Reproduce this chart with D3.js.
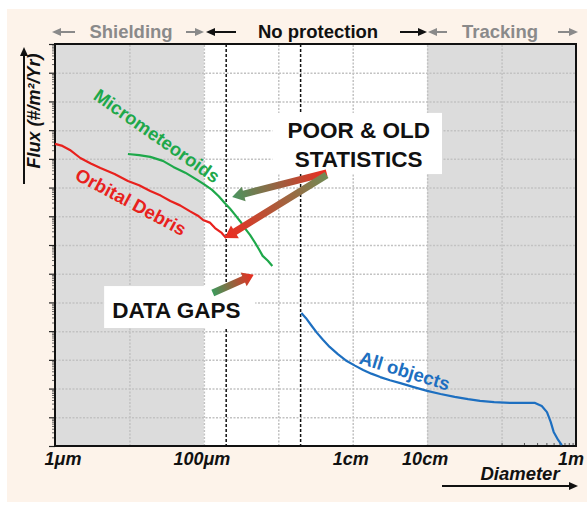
<!DOCTYPE html>
<html><head><meta charset="utf-8">
<script src="https://cdn.jsdelivr.net/npm/d3@7"></script>
<style>
html,body{margin:0;padding:0;background:#fff;}
svg{display:block;font-family:"Liberation Sans",Arial,sans-serif;}
</style></head>
<body>
<svg id="c" width="587" height="511"></svg>
<script>
// ---- data (x in decade-grid units 0..7, y in flux-grid units 0..14) ----
const xTickPos    = [0, 2, 4, 5, 7];
const xTickLabels = ["1μm", "100μm", "1cm", "10cm", "1m"];
const zoneNames   = ["Shielding", "No protection", "Tracking"];
const shadedZones = [[0, 2], [5, 7]];
const gapBounds   = [2.3, 3.3];

const debrisX = [0, 0.10, 0.20, 0.34, 0.48, 0.61, 0.80, 0.98, 1.13, 1.28, 1.42, 1.55, 1.68, 1.81, 1.92, 1.99, 2.08, 2.15, 2.24, 2.30];
const debrisY = [10.52, 10.45, 10.31, 10.03, 9.84, 9.68, 9.47, 9.23, 9.08, 8.88, 8.72, 8.53, 8.38, 8.18, 8.02, 7.87, 7.78, 7.59, 7.42, 7.24];

const microX = [0.98, 1.13, 1.28, 1.45, 1.59, 1.75, 1.91, 2.01, 2.11, 2.20, 2.28, 2.35, 2.42, 2.49, 2.55, 2.62, 2.69, 2.74, 2.79, 2.86, 2.92];
const microY = [10.17, 10.13, 10.07, 9.93, 9.72, 9.52, 9.27, 9.10, 8.92, 8.70, 8.46, 8.27, 8.05, 7.82, 7.59, 7.35, 7.07, 6.85, 6.62, 6.45, 6.27];

const allX = [3.31, 3.37, 3.45, 3.52, 3.60, 3.69, 3.80, 3.92, 4.03, 4.14, 4.25, 4.37, 4.50, 4.64, 4.82, 5.00, 5.18, 5.37, 5.55, 5.71, 5.90, 6.11, 6.30, 6.45, 6.54, 6.61, 6.66, 6.70, 6.76, 6.81];
const allY = [4.63, 4.46, 4.18, 3.94, 3.70, 3.45, 3.20, 2.96, 2.80, 2.65, 2.52, 2.40, 2.29, 2.19, 2.05, 1.92, 1.81, 1.71, 1.63, 1.57, 1.53, 1.50, 1.50, 1.50, 1.39, 1.18, 0.84, 0.49, 0.21, 0.03];

const seriesNames = ["Micrometeoroids", "Orbital Debris", "All objects"];

// ---- layout ----
const svg = d3.select("#c");
const L = 55, R = 576, T = 44, B = 446;
const x = d3.scaleLinear().domain([0, 7]).range([L, R]);
const y = d3.scaleLinear().domain([0, 14]).range([B, T]);

const C = {red:"#e8211d", green:"#1ea84a", blue:"#1d6fc0", grey:"#8a8a8a", shade:"#dcdcdc"};

// background
svg.append("rect").attr("x",7).attr("y",9).attr("width",580).attr("height",493).attr("fill","#fdf3ea");
svg.append("rect").attr("x",L).attr("y",T).attr("width",R-L).attr("height",B-T).attr("fill","#fff");

// shaded zones
svg.selectAll("rect.zone").data(shadedZones).join("rect").attr("class","zone")
  .attr("x",d=>x(d[0])).attr("y",T).attr("width",d=>x(d[1])-x(d[0])).attr("height",B-T)
  .attr("fill",C.shade);

// grid
const gx = d3.axisBottom(x).tickValues(d3.range(1,7)).tickSize(-(B-T)).tickFormat("");
svg.append("g").attr("transform",`translate(0,${B})`).call(gx)
  .call(g=>g.select(".domain").remove())
  .call(g=>g.selectAll("line").attr("stroke","#c2c2c2").attr("stroke-width",1.5).attr("stroke-dasharray","2,1.5"));
const gy = d3.axisLeft(y).tickValues(d3.range(1,14)).tickSize(-(R-L)).tickFormat("");
svg.append("g").attr("transform",`translate(${L},0)`).call(gy)
  .call(g=>g.select(".domain").remove())
  .call(g=>g.selectAll("line").attr("stroke","#c2c2c2").attr("stroke-width",1.5).attr("stroke-dasharray","2,1.5"));

// dashed gap bounds
svg.selectAll("line.gap").data(gapBounds).join("line").attr("class","gap")
  .attr("x1",d=>x(d)).attr("x2",d=>x(d)).attr("y1",T).attr("y2",B)
  .attr("stroke","#111").attr("stroke-width",1.5).attr("stroke-dasharray","3,2");

// left axis major + minor ticks
const yAx = d3.axisLeft(y).tickValues(d3.range(0,15)).tickSize(6).tickFormat("");
svg.append("g").attr("transform",`translate(${L},0)`).call(yAx)
  .call(g=>g.select(".domain").remove())
  .call(g=>g.selectAll("line").attr("stroke","#222").attr("stroke-width",1.2));
const minor = [];
d3.range(0,14).forEach(i=>d3.range(2,10).forEach(k=>minor.push(i+Math.log10(k))));
svg.append("g").attr("transform",`translate(${L},0)`).call(d3.axisLeft(y).tickValues(minor).tickSize(3).tickFormat(""))
  .call(g=>g.select(".domain").remove())
  .call(g=>g.selectAll("line").attr("stroke","#444").attr("stroke-width",0.8));
// bottom minor ticks near 1m
const bminor = d3.range(2,10).map(k=>6+Math.log10(k));
svg.append("g").attr("transform",`translate(0,${B})`).call(d3.axisTop(x).tickValues([6].concat(bminor)).tickSize(3).tickFormat(""))
  .call(g=>g.select(".domain").remove())
  .call(g=>g.selectAll("line").attr("stroke","#444").attr("stroke-width",0.9));

// frame
svg.append("rect").attr("x",L).attr("y",T).attr("width",R-L).attr("height",B-T)
  .attr("fill","none").attr("stroke","#111").attr("stroke-width",2);

// curves
const line = d3.line().x(d=>x(d[0])).y(d=>y(d[1]));
const series = [
  {xs:microX, ys:microY, c:C.green},
  {xs:debrisX, ys:debrisY, c:C.red},
  {xs:allX, ys:allY, c:C.blue}
];
series.forEach(s=>{
  svg.append("path").attr("d",line(d3.zip(s.xs,s.ys))).attr("fill","none")
    .attr("stroke",s.c).attr("stroke-width",2.2).attr("stroke-linejoin","round");
});

// curve labels
const labPos = [{x:1.37,y:10.80,a:35,c:C.green},{x:1.02,y:8.50,a:28,c:C.red},{x:4.70,y:2.62,a:17,c:C.blue}];
seriesNames.forEach((n,i)=>{
  const p = labPos[i];
  svg.append("text").attr("transform",`translate(${x(p.x)},${y(p.y)}) rotate(${p.a})`)
    .attr("text-anchor","middle").attr("dy","0.35em")
    .attr("font-size",18.5).attr("font-weight","bold").attr("fill",p.c).text(n);
});

// annotation boxes
svg.append("rect").attr("x",x(2.92)).attr("y",y(11.60)).attr("width",x(5.20)-x(2.92)).attr("height",y(9.47)-y(11.60)).attr("fill","#fff");
svg.append("rect").attr("x",x(0.66)).attr("y",y(5.57)).attr("width",x(2.69)-x(0.66)).attr("height",y(4.11)-y(5.57)).attr("fill","#fff");
svg.append("text").attr("x",x(4.08)).attr("y",y(10.73)).attr("text-anchor","middle")
  .attr("font-size",22.5).attr("font-weight","bold").attr("fill","#111").text("POOR & OLD");
svg.append("text").attr("x",x(4.08)).attr("y",y(9.72)).attr("text-anchor","middle")
  .attr("font-size",22.5).attr("font-weight","bold").attr("fill","#111").text("STATISTICS");
svg.append("text").attr("x",x(1.63)).attr("y",y(4.46)).attr("text-anchor","middle")
  .attr("font-size",22.5).attr("font-weight","bold").attr("fill","#111").text("DATA GAPS");

// gradient arrows
const defs = svg.append("defs");
function gradArrow(id, tail, tip, c0, c1, w, hw, hl){
  const x1=x(tail[0]), y1=y(tail[1]), x2=x(tip[0]), y2=y(tip[1]);
  const g = defs.append("linearGradient").attr("id",id).attr("gradientUnits","userSpaceOnUse")
    .attr("x1",x1).attr("y1",y1).attr("x2",x2).attr("y2",y2);
  g.append("stop").attr("offset","0%").attr("stop-color",c0);
  g.append("stop").attr("offset","100%").attr("stop-color",c1);
  const dx=x2-x1, dy=y2-y1, len=Math.hypot(dx,dy), ux=dx/len, uy=dy/len, px=-uy, py=ux;
  const nx=x2-ux*hl, ny=y2-uy*hl;
  const pts=[[x1+px*w/2,y1+py*w/2],[nx+px*w/2,ny+py*w/2],[nx+px*hw/2,ny+py*hw/2],[x2,y2],
             [nx-px*hw/2,ny-py*hw/2],[nx-px*w/2,ny-py*w/2],[x1-px*w/2,y1-py*w/2]];
  svg.append("polygon").attr("points",pts.map(p=>p.join(",")).join(" ")).attr("fill",`url(#${id})`);
}
gradArrow("ga1",[3.65,9.51],[2.38,8.67],"#ee2a1f","#4a9560",7,15,12);
gradArrow("ga2",[3.65,9.44],[2.28,7.24],"#6f8b55","#ee2a1f",7,15,12);
gradArrow("ga3",[2.12,5.33],[2.67,5.96],"#3d9a5c","#ee2a1f",7,15,11);

// x tick labels
svg.selectAll("text.xt").data(xTickPos).join("text").attr("class","xt")
  .attr("x",(d,i)=> x(d) + (i===0 ? 8 : i===xTickPos.length-1 ? -5 : -2))
  .attr("y",465).attr("text-anchor","middle")
  .attr("font-size",18).attr("font-weight","bold").attr("font-style","italic").attr("fill","#111")
  .text((d,i)=>xTickLabels[i]);

// Diameter label and arrow
svg.append("text").attr("x",520).attr("y",480).attr("text-anchor","middle")
  .attr("font-size",18.5).attr("font-weight","bold").attr("font-style","italic").attr("fill","#111").text("Diameter");
function simpleArrow(x1,y1,x2,y2,col,sw,hw,hl){
  const dx=x2-x1, dy=y2-y1, len=Math.hypot(dx,dy), ux=dx/len, uy=dy/len, px=-uy, py=ux;
  const nx=x2-ux*hl, ny=y2-uy*hl;
  svg.append("line").attr("x1",x1).attr("y1",y1).attr("x2",nx).attr("y2",ny).attr("stroke",col).attr("stroke-width",sw);
  svg.append("polygon").attr("points",[[x2,y2],[nx+px*hw/2,ny+py*hw/2],[nx-px*hw/2,ny-py*hw/2]].map(p=>p.join(",")).join(" ")).attr("fill",col);
}
simpleArrow(442,486,578,486,"#111",2,8,9);

// y label and arrow
svg.append("text").attr("transform","translate(40,111) rotate(-90)").attr("text-anchor","middle")
  .attr("font-size",18).attr("font-weight","bold").attr("font-style","italic").attr("fill","#111")
  .text("Flux (#/m²/Yr)");
simpleArrow(24,184,24,47,"#111",2,8,9);

// top zone labels and arrows
svg.append("text").attr("x",131).attr("y",38).attr("text-anchor","middle").attr("font-size",18.5)
  .attr("font-weight","bold").attr("fill",C.grey).text(zoneNames[0]);
svg.append("text").attr("x",318).attr("y",38).attr("text-anchor","middle").attr("font-size",18.5)
  .attr("font-weight","bold").attr("fill","#111").text(zoneNames[1]);
svg.append("text").attr("x",500).attr("y",38).attr("text-anchor","middle").attr("font-size",18.5)
  .attr("font-weight","bold").attr("fill",C.grey).text(zoneNames[2]);
simpleArrow(75,32,52,32,C.grey,2,8,9);
simpleArrow(186,32,204,32,C.grey,2,8,9);
simpleArrow(236,32,206,32,"#111",2,8,9);
simpleArrow(400,32,427,32,"#111",2,8,9);
simpleArrow(447,32,428,32,C.grey,2,8,9);
simpleArrow(558,32,578,32,C.grey,2,8,9);
</script>
</body></html>
